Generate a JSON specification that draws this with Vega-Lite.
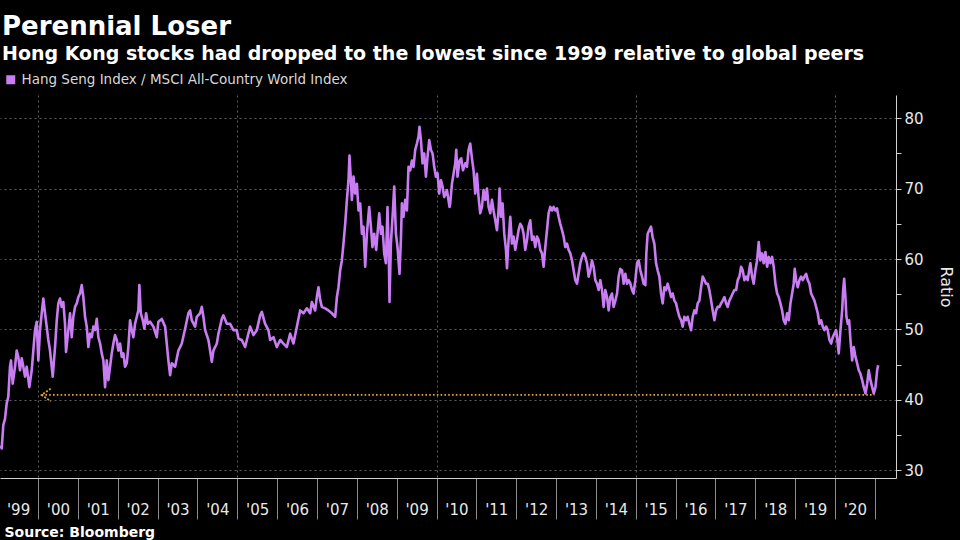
{
  "$schema": "https://vega.github.io/schema/vega-lite/v6.json",
  "width": 896,
  "height": 383,
  "autosize": "none",
  "padding": {"left": 0, "top": 95, "right": 64, "bottom": 62},
  "background": "#000000",
  "config": {
    "view": {"stroke": null},
    "font": "DejaVu Sans"
  },
  "title": {
    "text": "Perennial Loser",
    "subtitle": "Hong Kong stocks had dropped to the lowest since 1999 relative to global peers",
    "anchor": "start",
    "frame": "group",
    "orient": "top",
    "font": "DejaVu Sans",
    "fontSize": 26,
    "fontWeight": "bold",
    "color": "#ffffff",
    "subtitleFont": "DejaVu Sans",
    "subtitleFontSize": 19,
    "subtitleFontWeight": "bold",
    "subtitleColor": "#ffffff",
    "subtitlePadding": 5,
    "offset": 9,
    "dx": 2
  },
  "datasets": {
    "ratio": [
      {"year": 1999.064, "ratio": 33.5}, {"year": 1999.089, "ratio": 33.1}, {"year": 1999.129, "ratio": 36.4}, {"year": 1999.171, "ratio": 37.3},
      {"year": 1999.214, "ratio": 39.5}, {"year": 1999.254, "ratio": 40.4}, {"year": 1999.297, "ratio": 44.7}, {"year": 1999.322, "ratio": 45.6},
      {"year": 1999.365, "ratio": 42.3}, {"year": 1999.423, "ratio": 44.7}, {"year": 1999.465, "ratio": 47.0}, {"year": 1999.505, "ratio": 46.1},
      {"year": 1999.548, "ratio": 44.2}, {"year": 1999.591, "ratio": 45.9}, {"year": 1999.631, "ratio": 44.7}, {"year": 1999.674, "ratio": 43.3},
      {"year": 1999.716, "ratio": 44.7}, {"year": 1999.782, "ratio": 41.8}, {"year": 1999.842, "ratio": 44.2}, {"year": 1999.882, "ratio": 47.0},
      {"year": 1999.925, "ratio": 49.9}, {"year": 1999.967, "ratio": 51.1}, {"year": 2000.008, "ratio": 45.6}, {"year": 2000.050, "ratio": 49.9},
      {"year": 2000.093, "ratio": 52.3}, {"year": 2000.133, "ratio": 54.4}, {"year": 2000.176, "ratio": 52.3}, {"year": 2000.218, "ratio": 50.4},
      {"year": 2000.259, "ratio": 48.5}, {"year": 2000.301, "ratio": 47.0}, {"year": 2000.369, "ratio": 43.3}, {"year": 2000.427, "ratio": 47.5},
      {"year": 2000.470, "ratio": 51.3}, {"year": 2000.510, "ratio": 53.7}, {"year": 2000.552, "ratio": 54.4}, {"year": 2000.595, "ratio": 53.2},
      {"year": 2000.635, "ratio": 53.9}, {"year": 2000.678, "ratio": 50.8}, {"year": 2000.703, "ratio": 46.8}, {"year": 2000.761, "ratio": 49.9},
      {"year": 2000.803, "ratio": 52.3}, {"year": 2000.846, "ratio": 48.9}, {"year": 2000.886, "ratio": 51.8}, {"year": 2000.929, "ratio": 53.2},
      {"year": 2000.972, "ratio": 53.7}, {"year": 2001.012, "ratio": 54.6}, {"year": 2001.054, "ratio": 55.1}, {"year": 2001.097, "ratio": 56.3},
      {"year": 2001.137, "ratio": 54.6}, {"year": 2001.180, "ratio": 51.8}, {"year": 2001.223, "ratio": 50.4}, {"year": 2001.263, "ratio": 47.5},
      {"year": 2001.306, "ratio": 49.4}, {"year": 2001.348, "ratio": 48.9}, {"year": 2001.388, "ratio": 50.4}, {"year": 2001.431, "ratio": 49.9},
      {"year": 2001.474, "ratio": 51.5}, {"year": 2001.514, "ratio": 48.9}, {"year": 2001.557, "ratio": 48.0}, {"year": 2001.599, "ratio": 46.6},
      {"year": 2001.640, "ratio": 45.6}, {"year": 2001.682, "ratio": 41.8}, {"year": 2001.725, "ratio": 45.6}, {"year": 2001.765, "ratio": 42.8},
      {"year": 2001.808, "ratio": 44.7}, {"year": 2001.850, "ratio": 46.6}, {"year": 2001.891, "ratio": 48.0}, {"year": 2001.933, "ratio": 49.2},
      {"year": 2001.976, "ratio": 48.5}, {"year": 2002.016, "ratio": 47.0}, {"year": 2002.059, "ratio": 48.0}, {"year": 2002.101, "ratio": 46.1},
      {"year": 2002.142, "ratio": 46.6}, {"year": 2002.184, "ratio": 44.7}, {"year": 2002.227, "ratio": 45.2}, {"year": 2002.267, "ratio": 47.5},
      {"year": 2002.310, "ratio": 51.3}, {"year": 2002.353, "ratio": 49.9}, {"year": 2002.393, "ratio": 48.9}, {"year": 2002.435, "ratio": 50.8},
      {"year": 2002.478, "ratio": 51.8}, {"year": 2002.518, "ratio": 52.7}, {"year": 2002.543, "ratio": 56.3}, {"year": 2002.579, "ratio": 52.3},
      {"year": 2002.629, "ratio": 51.3}, {"year": 2002.669, "ratio": 50.1}, {"year": 2002.712, "ratio": 52.3}, {"year": 2002.754, "ratio": 50.8},
      {"year": 2002.812, "ratio": 51.1}, {"year": 2002.895, "ratio": 50.4}, {"year": 2002.980, "ratio": 48.9}, {"year": 2003.020, "ratio": 51.1},
      {"year": 2003.106, "ratio": 51.5}, {"year": 2003.189, "ratio": 50.4}, {"year": 2003.231, "ratio": 48.0}, {"year": 2003.271, "ratio": 45.6},
      {"year": 2003.314, "ratio": 43.5}, {"year": 2003.357, "ratio": 45.2}, {"year": 2003.440, "ratio": 44.7}, {"year": 2003.523, "ratio": 47.0},
      {"year": 2003.608, "ratio": 48.0}, {"year": 2003.691, "ratio": 50.1}, {"year": 2003.774, "ratio": 52.3}, {"year": 2003.816, "ratio": 52.7},
      {"year": 2003.859, "ratio": 51.3}, {"year": 2003.942, "ratio": 50.4}, {"year": 2003.985, "ratio": 51.8}, {"year": 2004.067, "ratio": 52.3},
      {"year": 2004.110, "ratio": 53.2}, {"year": 2004.150, "ratio": 51.8}, {"year": 2004.193, "ratio": 49.9}, {"year": 2004.276, "ratio": 48.5},
      {"year": 2004.318, "ratio": 47.0}, {"year": 2004.361, "ratio": 45.4}, {"year": 2004.401, "ratio": 47.0}, {"year": 2004.487, "ratio": 48.0},
      {"year": 2004.527, "ratio": 49.4}, {"year": 2004.612, "ratio": 51.5}, {"year": 2004.652, "ratio": 52.0}, {"year": 2004.738, "ratio": 50.8},
      {"year": 2004.821, "ratio": 50.8}, {"year": 2004.903, "ratio": 49.9}, {"year": 2004.989, "ratio": 49.9}, {"year": 2005.029, "ratio": 48.7},
      {"year": 2005.114, "ratio": 48.5}, {"year": 2005.197, "ratio": 47.5}, {"year": 2005.240, "ratio": 48.5}, {"year": 2005.323, "ratio": 50.4},
      {"year": 2005.406, "ratio": 49.2}, {"year": 2005.491, "ratio": 49.9}, {"year": 2005.574, "ratio": 52.0}, {"year": 2005.616, "ratio": 52.5},
      {"year": 2005.699, "ratio": 50.8}, {"year": 2005.782, "ratio": 49.9}, {"year": 2005.825, "ratio": 48.5}, {"year": 2005.908, "ratio": 48.9},
      {"year": 2005.993, "ratio": 47.5}, {"year": 2006.076, "ratio": 48.5}, {"year": 2006.159, "ratio": 48.0}, {"year": 2006.244, "ratio": 47.5},
      {"year": 2006.327, "ratio": 49.4}, {"year": 2006.410, "ratio": 48.0}, {"year": 2006.495, "ratio": 50.4}, {"year": 2006.578, "ratio": 52.7},
      {"year": 2006.661, "ratio": 52.3}, {"year": 2006.746, "ratio": 53.0}, {"year": 2006.829, "ratio": 52.3}, {"year": 2006.872, "ratio": 53.9},
      {"year": 2006.955, "ratio": 52.7}, {"year": 2006.997, "ratio": 54.6}, {"year": 2007.038, "ratio": 56.0}, {"year": 2007.080, "ratio": 54.2},
      {"year": 2007.123, "ratio": 53.2}, {"year": 2007.206, "ratio": 53.0}, {"year": 2007.289, "ratio": 52.7}, {"year": 2007.374, "ratio": 52.3},
      {"year": 2007.457, "ratio": 51.8}, {"year": 2007.500, "ratio": 54.6}, {"year": 2007.540, "ratio": 56.0}, {"year": 2007.582, "ratio": 58.4},
      {"year": 2007.625, "ratio": 59.8}, {"year": 2007.665, "ratio": 62.2}, {"year": 2007.708, "ratio": 65.0}, {"year": 2007.751, "ratio": 68.4},
      {"year": 2007.791, "ratio": 71.2}, {"year": 2007.816, "ratio": 74.7}, {"year": 2007.851, "ratio": 71.2}, {"year": 2007.876, "ratio": 68.4},
      {"year": 2007.916, "ratio": 71.7}, {"year": 2007.959, "ratio": 69.3}, {"year": 2008.002, "ratio": 70.7}, {"year": 2008.042, "ratio": 66.9},
      {"year": 2008.085, "ratio": 67.9}, {"year": 2008.127, "ratio": 63.6}, {"year": 2008.167, "ratio": 64.6}, {"year": 2008.210, "ratio": 58.9},
      {"year": 2008.253, "ratio": 63.6}, {"year": 2008.310, "ratio": 67.4}, {"year": 2008.353, "ratio": 64.6}, {"year": 2008.393, "ratio": 61.7},
      {"year": 2008.436, "ratio": 63.6}, {"year": 2008.486, "ratio": 61.3}, {"year": 2008.519, "ratio": 63.6}, {"year": 2008.562, "ratio": 66.5},
      {"year": 2008.604, "ratio": 63.6}, {"year": 2008.644, "ratio": 64.6}, {"year": 2008.687, "ratio": 60.8}, {"year": 2008.730, "ratio": 59.4},
      {"year": 2008.770, "ratio": 67.4}, {"year": 2008.805, "ratio": 59.8}, {"year": 2008.820, "ratio": 53.9}, {"year": 2008.855, "ratio": 62.2},
      {"year": 2008.906, "ratio": 66.9}, {"year": 2008.938, "ratio": 70.3}, {"year": 2008.981, "ratio": 63.6}, {"year": 2009.021, "ratio": 61.7},
      {"year": 2009.071, "ratio": 57.9}, {"year": 2009.106, "ratio": 62.7}, {"year": 2009.131, "ratio": 67.9}, {"year": 2009.172, "ratio": 66.0},
      {"year": 2009.214, "ratio": 68.4}, {"year": 2009.257, "ratio": 66.9}, {"year": 2009.297, "ratio": 73.1}, {"year": 2009.340, "ratio": 72.6},
      {"year": 2009.383, "ratio": 74.0}, {"year": 2009.423, "ratio": 73.1}, {"year": 2009.465, "ratio": 75.5}, {"year": 2009.508, "ratio": 76.4},
      {"year": 2009.548, "ratio": 77.4}, {"year": 2009.573, "ratio": 78.8}, {"year": 2009.609, "ratio": 76.9}, {"year": 2009.649, "ratio": 73.6},
      {"year": 2009.691, "ratio": 75.0}, {"year": 2009.734, "ratio": 71.7}, {"year": 2009.774, "ratio": 74.5}, {"year": 2009.817, "ratio": 76.9},
      {"year": 2009.860, "ratio": 75.5}, {"year": 2009.900, "ratio": 75.0}, {"year": 2009.942, "ratio": 73.1}, {"year": 2009.985, "ratio": 71.7},
      {"year": 2010.025, "ratio": 72.2}, {"year": 2010.068, "ratio": 69.3}, {"year": 2010.111, "ratio": 71.2}, {"year": 2010.151, "ratio": 70.3},
      {"year": 2010.193, "ratio": 68.8}, {"year": 2010.261, "ratio": 69.8}, {"year": 2010.327, "ratio": 67.4}, {"year": 2010.344, "ratio": 67.9},
      {"year": 2010.387, "ratio": 70.7}, {"year": 2010.427, "ratio": 72.1}, {"year": 2010.470, "ratio": 73.6}, {"year": 2010.495, "ratio": 75.5},
      {"year": 2010.527, "ratio": 71.7}, {"year": 2010.578, "ratio": 74.0}, {"year": 2010.620, "ratio": 74.3}, {"year": 2010.663, "ratio": 72.6},
      {"year": 2010.721, "ratio": 73.6}, {"year": 2010.763, "ratio": 73.1}, {"year": 2010.804, "ratio": 75.5}, {"year": 2010.846, "ratio": 76.4},
      {"year": 2010.889, "ratio": 74.3}, {"year": 2010.929, "ratio": 72.6}, {"year": 2010.972, "ratio": 69.3}, {"year": 2011.014, "ratio": 72.1},
      {"year": 2011.055, "ratio": 68.8}, {"year": 2011.097, "ratio": 66.5}, {"year": 2011.140, "ratio": 67.4}, {"year": 2011.180, "ratio": 69.8},
      {"year": 2011.223, "ratio": 68.4}, {"year": 2011.266, "ratio": 70.0}, {"year": 2011.306, "ratio": 67.4}, {"year": 2011.348, "ratio": 66.5},
      {"year": 2011.391, "ratio": 68.4}, {"year": 2011.431, "ratio": 66.9}, {"year": 2011.474, "ratio": 65.5}, {"year": 2011.517, "ratio": 64.1},
      {"year": 2011.557, "ratio": 66.9}, {"year": 2011.582, "ratio": 70.0}, {"year": 2011.617, "ratio": 66.0}, {"year": 2011.657, "ratio": 67.9},
      {"year": 2011.700, "ratio": 63.6}, {"year": 2011.743, "ratio": 61.3}, {"year": 2011.768, "ratio": 58.7}, {"year": 2011.808, "ratio": 62.7},
      {"year": 2011.851, "ratio": 66.0}, {"year": 2011.893, "ratio": 62.2}, {"year": 2011.933, "ratio": 63.2}, {"year": 2011.976, "ratio": 61.3},
      {"year": 2012.019, "ratio": 62.7}, {"year": 2012.059, "ratio": 64.1}, {"year": 2012.102, "ratio": 65.0}, {"year": 2012.144, "ratio": 64.6},
      {"year": 2012.184, "ratio": 63.6}, {"year": 2012.227, "ratio": 61.3}, {"year": 2012.270, "ratio": 62.7}, {"year": 2012.310, "ratio": 64.6},
      {"year": 2012.353, "ratio": 65.5}, {"year": 2012.395, "ratio": 62.7}, {"year": 2012.436, "ratio": 63.2}, {"year": 2012.478, "ratio": 61.7},
      {"year": 2012.521, "ratio": 63.2}, {"year": 2012.561, "ratio": 62.7}, {"year": 2012.604, "ratio": 61.3}, {"year": 2012.646, "ratio": 60.8},
      {"year": 2012.687, "ratio": 58.9}, {"year": 2012.729, "ratio": 61.7}, {"year": 2012.772, "ratio": 64.1}, {"year": 2012.812, "ratio": 66.5},
      {"year": 2012.855, "ratio": 67.4}, {"year": 2012.898, "ratio": 66.9}, {"year": 2012.938, "ratio": 67.4}, {"year": 2012.980, "ratio": 66.9},
      {"year": 2013.023, "ratio": 67.2}, {"year": 2013.063, "ratio": 66.0}, {"year": 2013.106, "ratio": 65.0}, {"year": 2013.149, "ratio": 64.1},
      {"year": 2013.189, "ratio": 63.2}, {"year": 2013.231, "ratio": 61.7}, {"year": 2013.274, "ratio": 62.2}, {"year": 2013.314, "ratio": 61.3},
      {"year": 2013.357, "ratio": 60.8}, {"year": 2013.400, "ratio": 59.8}, {"year": 2013.440, "ratio": 58.4}, {"year": 2013.483, "ratio": 57.0},
      {"year": 2013.525, "ratio": 56.5}, {"year": 2013.565, "ratio": 57.9}, {"year": 2013.608, "ratio": 59.4}, {"year": 2013.651, "ratio": 60.3},
      {"year": 2013.691, "ratio": 60.8}, {"year": 2013.734, "ratio": 60.3}, {"year": 2013.776, "ratio": 59.4}, {"year": 2013.817, "ratio": 57.5},
      {"year": 2013.859, "ratio": 58.4}, {"year": 2013.902, "ratio": 59.8}, {"year": 2013.942, "ratio": 58.9}, {"year": 2013.985, "ratio": 57.0},
      {"year": 2014.027, "ratio": 56.5}, {"year": 2014.068, "ratio": 55.6}, {"year": 2014.110, "ratio": 57.0}, {"year": 2014.153, "ratio": 55.6},
      {"year": 2014.193, "ratio": 53.2}, {"year": 2014.236, "ratio": 55.6}, {"year": 2014.279, "ratio": 54.6}, {"year": 2014.319, "ratio": 52.7},
      {"year": 2014.361, "ratio": 54.6}, {"year": 2014.404, "ratio": 55.1}, {"year": 2014.444, "ratio": 53.2}, {"year": 2014.487, "ratio": 54.1},
      {"year": 2014.530, "ratio": 55.1}, {"year": 2014.570, "ratio": 57.5}, {"year": 2014.612, "ratio": 58.6}, {"year": 2014.655, "ratio": 58.4},
      {"year": 2014.695, "ratio": 56.5}, {"year": 2014.738, "ratio": 57.9}, {"year": 2014.781, "ratio": 56.5}, {"year": 2014.821, "ratio": 57.0},
      {"year": 2014.864, "ratio": 56.5}, {"year": 2014.906, "ratio": 55.6}, {"year": 2014.946, "ratio": 55.1}, {"year": 2014.989, "ratio": 57.0},
      {"year": 2015.032, "ratio": 59.4}, {"year": 2015.072, "ratio": 59.8}, {"year": 2015.115, "ratio": 58.4}, {"year": 2015.157, "ratio": 57.5},
      {"year": 2015.197, "ratio": 56.5}, {"year": 2015.240, "ratio": 56.3}, {"year": 2015.265, "ratio": 60.8}, {"year": 2015.298, "ratio": 63.6},
      {"year": 2015.341, "ratio": 64.1}, {"year": 2015.383, "ratio": 64.6}, {"year": 2015.423, "ratio": 63.1}, {"year": 2015.466, "ratio": 62.2},
      {"year": 2015.509, "ratio": 59.4}, {"year": 2015.549, "ratio": 58.4}, {"year": 2015.592, "ratio": 57.5}, {"year": 2015.634, "ratio": 55.1},
      {"year": 2015.675, "ratio": 53.7}, {"year": 2015.717, "ratio": 56.0}, {"year": 2015.760, "ratio": 55.6}, {"year": 2015.800, "ratio": 56.5},
      {"year": 2015.843, "ratio": 55.6}, {"year": 2015.886, "ratio": 54.6}, {"year": 2015.926, "ratio": 55.1}, {"year": 2015.968, "ratio": 54.1},
      {"year": 2016.011, "ratio": 53.7}, {"year": 2016.051, "ratio": 52.7}, {"year": 2016.094, "ratio": 51.8}, {"year": 2016.137, "ratio": 51.3},
      {"year": 2016.177, "ratio": 50.4}, {"year": 2016.219, "ratio": 51.8}, {"year": 2016.262, "ratio": 51.3}, {"year": 2016.302, "ratio": 51.8},
      {"year": 2016.345, "ratio": 50.8}, {"year": 2016.388, "ratio": 49.9}, {"year": 2016.428, "ratio": 51.8}, {"year": 2016.471, "ratio": 52.7},
      {"year": 2016.513, "ratio": 52.3}, {"year": 2016.553, "ratio": 53.7}, {"year": 2016.596, "ratio": 54.1}, {"year": 2016.639, "ratio": 56.0},
      {"year": 2016.679, "ratio": 57.5}, {"year": 2016.722, "ratio": 57.0}, {"year": 2016.764, "ratio": 56.5}, {"year": 2016.805, "ratio": 56.5},
      {"year": 2016.847, "ratio": 55.6}, {"year": 2016.890, "ratio": 54.1}, {"year": 2016.930, "ratio": 52.7}, {"year": 2016.973, "ratio": 51.3},
      {"year": 2017.015, "ratio": 52.7}, {"year": 2017.056, "ratio": 53.2}, {"year": 2017.098, "ratio": 53.2}, {"year": 2017.141, "ratio": 53.7},
      {"year": 2017.181, "ratio": 54.1}, {"year": 2017.224, "ratio": 54.6}, {"year": 2017.267, "ratio": 53.7}, {"year": 2017.307, "ratio": 53.2},
      {"year": 2017.349, "ratio": 54.1}, {"year": 2017.392, "ratio": 54.6}, {"year": 2017.432, "ratio": 55.1}, {"year": 2017.475, "ratio": 55.6},
      {"year": 2017.518, "ratio": 55.6}, {"year": 2017.558, "ratio": 57.0}, {"year": 2017.600, "ratio": 57.5}, {"year": 2017.643, "ratio": 58.9},
      {"year": 2017.683, "ratio": 58.4}, {"year": 2017.726, "ratio": 57.0}, {"year": 2017.769, "ratio": 57.5}, {"year": 2017.809, "ratio": 57.0},
      {"year": 2017.859, "ratio": 58.9}, {"year": 2017.876, "ratio": 59.4}, {"year": 2017.919, "ratio": 57.5}, {"year": 2017.959, "ratio": 56.5},
      {"year": 2018.002, "ratio": 58.4}, {"year": 2018.044, "ratio": 59.8}, {"year": 2018.085, "ratio": 62.4}, {"year": 2018.127, "ratio": 59.8},
      {"year": 2018.170, "ratio": 60.8}, {"year": 2018.210, "ratio": 59.4}, {"year": 2018.253, "ratio": 61.0}, {"year": 2018.296, "ratio": 58.9},
      {"year": 2018.336, "ratio": 60.3}, {"year": 2018.378, "ratio": 59.4}, {"year": 2018.421, "ratio": 60.3}, {"year": 2018.461, "ratio": 58.9},
      {"year": 2018.504, "ratio": 56.5}, {"year": 2018.547, "ratio": 55.1}, {"year": 2018.587, "ratio": 54.6}, {"year": 2018.630, "ratio": 53.7},
      {"year": 2018.672, "ratio": 52.7}, {"year": 2018.712, "ratio": 51.3}, {"year": 2018.755, "ratio": 50.8}, {"year": 2018.798, "ratio": 52.3},
      {"year": 2018.838, "ratio": 51.3}, {"year": 2018.881, "ratio": 53.7}, {"year": 2018.923, "ratio": 55.1}, {"year": 2018.963, "ratio": 56.5},
      {"year": 2018.989, "ratio": 58.6}, {"year": 2019.024, "ratio": 57.0}, {"year": 2019.064, "ratio": 56.0}, {"year": 2019.107, "ratio": 57.0},
      {"year": 2019.149, "ratio": 57.5}, {"year": 2019.189, "ratio": 57.0}, {"year": 2019.232, "ratio": 57.5}, {"year": 2019.275, "ratio": 57.9},
      {"year": 2019.315, "ratio": 57.0}, {"year": 2019.358, "ratio": 56.5}, {"year": 2019.400, "ratio": 55.1}, {"year": 2019.441, "ratio": 54.6},
      {"year": 2019.483, "ratio": 54.1}, {"year": 2019.526, "ratio": 53.2}, {"year": 2019.566, "ratio": 52.3}, {"year": 2019.609, "ratio": 50.8},
      {"year": 2019.651, "ratio": 51.3}, {"year": 2019.692, "ratio": 50.4}, {"year": 2019.734, "ratio": 49.9}, {"year": 2019.777, "ratio": 50.4},
      {"year": 2019.817, "ratio": 49.9}, {"year": 2019.860, "ratio": 48.5}, {"year": 2019.903, "ratio": 48.0}, {"year": 2019.943, "ratio": 48.9},
      {"year": 2019.985, "ratio": 49.4}, {"year": 2020.028, "ratio": 49.9}, {"year": 2020.068, "ratio": 48.0}, {"year": 2020.093, "ratio": 46.6},
      {"year": 2020.136, "ratio": 49.9}, {"year": 2020.179, "ratio": 52.7}, {"year": 2020.204, "ratio": 55.6}, {"year": 2020.229, "ratio": 57.2},
      {"year": 2020.261, "ratio": 54.6}, {"year": 2020.286, "ratio": 51.8}, {"year": 2020.319, "ratio": 50.8}, {"year": 2020.354, "ratio": 51.3},
      {"year": 2020.387, "ratio": 48.5}, {"year": 2020.430, "ratio": 45.6}, {"year": 2020.470, "ratio": 47.5}, {"year": 2020.512, "ratio": 46.1},
      {"year": 2020.555, "ratio": 45.2}, {"year": 2020.595, "ratio": 44.2}, {"year": 2020.638, "ratio": 43.7}, {"year": 2020.681, "ratio": 42.8},
      {"year": 2020.721, "ratio": 41.8}, {"year": 2020.764, "ratio": 40.9}, {"year": 2020.806, "ratio": 42.3}, {"year": 2020.846, "ratio": 44.2},
      {"year": 2020.889, "ratio": 42.8}, {"year": 2020.932, "ratio": 41.8}, {"year": 2020.972, "ratio": 40.9}, {"year": 2021.015, "ratio": 41.8},
      {"year": 2021.057, "ratio": 44.2}, {"year": 2021.082, "ratio": 44.9}
    ],
    "arrow": [
      {"start": 2000.09, "end": 2020.99, "level": 40.7}
    ]
  },
  "layer": [
    {
      "data": {"name": "ratio"},
      "mark": {"type": "line", "strokeWidth": 2.6, "strokeJoin": "round"},
      "encoding": {
        "x": {
          "field": "year",
          "type": "quantitative",
          "scale": {"domain": [1999.046, 2021.53], "nice": false, "zero": false},
          "axis": {
            "orient": "bottom",
            "values": [2000, 2001, 2002, 2003, 2004, 2005, 2006, 2007, 2008, 2009, 2010, 2011, 2012, 2013, 2014, 2015, 2016, 2017, 2018, 2019, 2020, 2021],
            "labels": false,
            "title": null,
            "ticks": true,
            "tickSize": 41,
            "tickColor": "#8a8a8a",
            "tickWidth": 1,
            "domain": true,
            "domainColor": "#d0d0d0",
            "domainWidth": 1,
            "grid": true,
            "gridColor": "#5e5e5e",
            "gridDash": [2, 3],
            "gridWidth": 1,
            "gridOpacity": {"condition": {"test": "datum.value % 5 === 0", "value": 1}, "value": 0}
          }
        },
        "y": {
          "field": "ratio",
          "type": "quantitative",
          "scale": {"domain": [28.9, 83.3], "nice": false, "zero": false},
          "axis": {
            "orient": "right",
            "values": [30, 35, 40, 45, 50, 55, 60, 65, 70, 75, 80],
            "labelExpr": "datum.value % 10 === 0 ? datum.label : ''",
            "tickSize": 5,
            "tickColor": "#d0d0d0",
            "domainColor": "#d0d0d0",
            "labelColor": "#e8e8e8",
            "labelFont": "DejaVu Sans",
            "labelFontSize": 15,
            "labelPadding": 3,
            "labelBaseline": "middle",
            "grid": true,
            "gridColor": "#5e5e5e",
            "gridDash": [2, 3],
            "gridWidth": 1,
            "gridOpacity": {"condition": {"test": "datum.value % 10 === 0", "value": 1}, "value": 0},
            "title": "Ratio",
            "titleFont": "DejaVu Sans",
            "titleFontSize": 16,
            "titleFontWeight": "normal",
            "titleColor": "#e8e8e8",
            "titlePadding": 14
          }
        },
        "color": {
          "datum": "Hang Seng Index / MSCI All-Country World Index",
          "type": "nominal",
          "scale": {"range": ["#c87df2"]},
          "legend": {
            "orient": "none",
            "legendX": 4,
            "legendY": -22,
            "title": null,
            "padding": 0,
            "symbolType": "square",
            "symbolSize": 81,
            "symbolFillColor": "#c87df2",
            "symbolStrokeColor": "#c87df2",
            "symbolStrokeWidth": 0,
            "labelFont": "DejaVu Sans",
            "labelFontSize": 13.5,
            "labelColor": "#d8d8d8",
            "labelOffset": 4,
            "labelLimit": 0
          }
        }
      }
    },
    {
      "data": {"name": "arrow"},
      "mark": {"type": "rule", "color": "#e6a23c", "strokeWidth": 1.6, "strokeDash": [1.6, 2.2]},
      "encoding": {
        "x": {
          "field": "start",
          "type": "quantitative",
          "axis": {
            "orient": "bottom",
            "values": [1999.5, 2000.5, 2001.5, 2002.5, 2003.5, 2004.5, 2005.5, 2006.5, 2007.5, 2008.5, 2009.5, 2010.5, 2011.5, 2012.5, 2013.5, 2014.5, 2015.5, 2016.5, 2017.5, 2018.5, 2019.5, 2020.5],
            "labelExpr": "\"'\" + substring(toString(floor(datum.value)), 2, 4)",
            "ticks": false,
            "domain": false,
            "grid": false,
            "labelFont": "DejaVu Sans",
            "labelFontSize": 15,
            "labelColor": "#e8e8e8",
            "labelPadding": 24,
            "labelFlush": false,
            "labelOverlap": false,
            "title": "Source: Bloomberg",
            "titleFont": "DejaVu Sans",
            "titleFontSize": 14,
            "titleFontWeight": "bold",
            "titleColor": "#ffffff",
            "titleAlign": "left",
            "titleBaseline": "alphabetic",
            "titleX": 4,
            "titleY": 58
          }
        },
        "x2": {"field": "end"},
        "y": {"field": "level", "type": "quantitative", "axis": null}
      }
    },
    {
      "data": {"name": "arrow"},
      "mark": {"type": "point", "shape": "M1.3,-0.9L0,0L1.3,0.9", "size": 196, "filled": false, "color": "#e6a23c", "strokeWidth": 1.8, "strokeDash": [2, 1.6], "opacity": 1},
      "encoding": {
        "x": {"field": "start", "type": "quantitative", "axis": null},
        "y": {"field": "level", "type": "quantitative", "axis": null}
      }
    }
  ],
  "resolve": {"axis": {"x": "independent", "y": "independent"}}
}
